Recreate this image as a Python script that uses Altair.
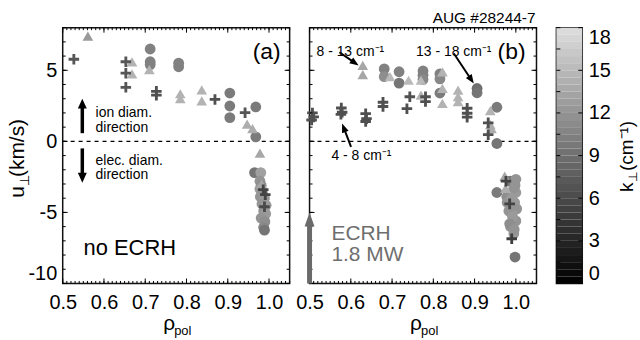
import math
import altair as alt
import pandas as pd

# ---------------- data ----------------
# panel (a): no ECRH
a_circle_rho = [0.712, 0.712, 0.712, 0.781, 0.781, 0.905, 0.905, 0.905, 0.968, 0.968,
                0.965, 0.980, 0.978, 0.981, 0.978, 0.984, 0.979, 0.989, 0.983, 0.993,
                0.987, 0.992, 0.981, 0.990, 0.987, 0.989]
a_circle_u = [6.5, 5.6, 5.4, 5.5, 5.25, 3.4, 2.49, 1.67, 2.42, 0.32,
              -2.2, -2.2, -2.8, -3.1, -3.35, -3.6, -3.9, -4.0, -4.4, -4.5,
              -4.9, -5.1, -5.4, -5.65, -6.05, -6.25]
a_circle_k = [10.5, 10.5, 10.5, 10.5, 10.5, 10.0, 10.0, 10.0, 10.0, 10.0,
              9.5, 13.0, 12.0, 11.5, 12.5, 12.0, 12.0, 12.5, 12.0, 12.5,
              12.0, 12.5, 12.0, 11.5, 11.0, 9.5]

a_tri_rho = [0.561, 0.668, 0.668, 0.710, 0.785, 0.785, 0.837, 0.837, 0.947, 0.960, 0.978, 0.982]
a_tri_u = [7.4, 5.6, 4.75, 5.05, 3.35, 3.0, 3.62, 2.85, 1.22, 0.9, -0.83, -3.0]
a_tri_k = [12.5, 14.5, 14.5, 14.5, 14.5, 14.5, 14.5, 14.5, 14.0, 14.0, 13.5, 13.5]

a_cross_rho = [0.527, 0.653, 0.653, 0.653, 0.727, 0.727, 0.869, 0.942, 0.986, 0.991, 0.989]
a_cross_u = [5.78, 5.6, 4.8, 3.8, 3.52, 3.25, 2.95, 2.02, -3.4, -3.75, -4.6]
a_cross_k = [7.0, 7.0, 7.0, 7.0, 6.5, 6.5, 6.5, 7.0, 5.5, 5.5, 6.0]

# panel (b): ECRH 1.8 MW
b_circle_rho = [0.681, 0.681, 0.717, 0.717, 0.775, 0.775, 0.775, 0.816, 0.816, 0.816,
                0.906, 0.906, 0.954, 0.954, 0.954,
                0.986, 1.000, 0.998, 1.000, 0.978, 0.979, 0.997, 1.002, 0.990, 1.000,
                0.987, 0.995, 0.998, 0.983, 0.992, 0.985, 0.995, 0.990, 0.996]
b_circle_u = [5.1, 4.55, 4.9, 4.1, 4.95, 4.65, 4.35, 4.75, 4.4, 3.4,
              3.72, 3.42, 2.4, -0.15, -3.6,
              -2.8, -2.67, -3.1, -3.6, -3.9, -4.3, -4.3, -4.75, -5.1, -5.6,
              -6.0, -6.5, -8.14, -4.9, -5.3, -5.8, -3.3, -4.0, -6.2]
b_circle_k = [10.5, 11.5, 10.5, 9.5, 10.5, 10.5, 11.0, 10.5, 11.0, 10.0,
              9.0, 9.5, 10.0, 9.5, 10.0,
              9.5, 12.0, 12.0, 12.5, 11.5, 12.0, 12.5, 12.0, 12.5, 12.0,
              12.0, 12.5, 9.5, 12.0, 12.5, 11.5, 12.0, 12.5, 12.0]

b_tri_rho = [0.629, 0.629, 0.695, 0.740, 0.770, 0.770, 0.822, 0.822, 0.822, 0.860,
             0.860, 0.860, 0.938, 0.938, 0.941, 0.973, 0.975]
b_tri_u = [5.35, 4.7, 4.55, 4.3, 4.3, 3.26, 4.89, 3.72, 2.68, 3.6,
           3.14, 2.79, 2.16, 1.17, 0.9, -2.44, -3.3]
b_tri_k = [13.5, 13.5, 15.0, 15.0, 15.0, 14.5, 14.5, 14.5, 14.5, 14.5,
           14.5, 14.5, 14.5, 14.0, 14.0, 13.5, 14.0]

b_cross_rho = [0.507, 0.510, 0.505, 0.577, 0.579, 0.576, 0.636, 0.638, 0.636, 0.678,
               0.678, 0.743, 0.736, 0.781, 0.781, 0.882, 0.882, 0.882, 0.933, 0.933,
               0.976, 0.985, 0.990]
b_cross_u = [2.0, 1.72, 1.5, 2.35, 2.05, 1.9, 1.95, 1.6, 1.4, 2.75,
             2.45, 3.14, 2.3, 3.14, 2.8, 2.33, 1.98, 1.7, 1.3, 0.47,
             -2.8, -4.4, -6.85]
b_cross_k = [6.5] * 20 + [5.5, 5.5, 5.0]

# axis ticks / colorbar levels
x_label_vals = [0.5, 0.6, 0.7, 0.8, 0.9, 1.0]
x_minor_vals = [round(0.5 + 0.01 * i, 2) for i in range(56)]
y_label_vals = [-10, -5, 0, 5]
y_minor_vals = list(range(-10, 9))
y_major_vals = [-10, -5, 0, 5]
cb_label_vals = [0, 3, 6, 9, 12, 15, 18]
cb_minor_vals = [1.5 * i for i in range(13)]
cb_band_lo = [0.5 * i for i in range(36)]

# ---------------- layout / style ----------------
W, H = 228, 257
CBW = 26
FONT = "Liberation Sans"
PLUS = "M-1,-0.27H-0.27V-1H0.27V-0.27H1V0.27H0.27V1H-0.27V0.27H-1Z"
xscale = alt.Scale(domain=[0.5, 1.05], nice=False, zero=False)
yscale = alt.Scale(domain=[-10, 8], nice=False, zero=False)
cbscale = alt.Scale(domain=[0, 18], nice=False, zero=False)
cscale = alt.Scale(domain=[0, 18], range=["#000000", "#dedede"], interpolate="rgb")
shape_scale = alt.Scale(domain=["circle", "triangle", "cross"],
                        range=["circle", "triangle-up", PLUS])
size_scale = alt.Scale(domain=["circle", "triangle", "cross"], range=[118, 112, 92])

XAXIS = alt.Axis(values=x_label_vals, format=".1f", labelFontSize=20, labelFont=FONT,
                 labelColor="black", ticks=False, tickSize=0, domain=False, grid=False,
                 title=None, labelPadding=9, labelFlush=False)
YAXIS = alt.Axis(values=y_label_vals, labelFontSize=20, labelFont=FONT, labelColor="black",
                 ticks=False, tickSize=0, domain=False, grid=False, title=None,
                 labelPadding=6, labelFlush=True,
                 labelExpr="datum.value < 0 ? '-' + abs(datum.value) : '' + datum.value")
CBAXIS = alt.Axis(orient="right", values=cb_label_vals, labelFontSize=20, labelFont=FONT,
                  labelColor="black", ticks=False, tickSize=0, domain=False, grid=False,
                  title=None, labelPadding=6, labelFlush=True)


def frame(panel, groups):
    rows = []
    for shp, (rr, uu, kk) in groups.items():
        for r, u, k in zip(rr, uu, kk):
            rows.append({"panel": panel, "shape": shp, "rho": r, "u": u, "k": k})
    return pd.DataFrame(rows)


df_a = frame("a", {"circle": (a_circle_rho, a_circle_u, a_circle_k),
                   "triangle": (a_tri_rho, a_tri_u, a_tri_k),
                   "cross": (a_cross_rho, a_cross_u, a_cross_k)})
df_b = frame("b", {"circle": (b_circle_rho, b_circle_u, b_circle_k),
                   "triangle": (b_tri_rho, b_tri_u, b_tri_k),
                   "cross": (b_cross_rho, b_cross_u, b_cross_k)})

ONE = pd.DataFrame({"a": [0]})


def xticks():
    layers = []
    for vals, ln in ((x_minor_vals, 2.5), (x_label_vals, 5)):
        base = alt.Chart(pd.DataFrame({"t": vals})).mark_rule(color="black", strokeWidth=1).encode(
            x=alt.X("t:Q", scale=xscale, axis=XAXIS))
        layers.append(base.encode(y=alt.value(H), y2=alt.value(H - ln)))
        layers.append(base.encode(y=alt.value(0), y2=alt.value(ln)))
    return layers


def yticks(yaxis):
    layers = []
    for vals, ln in ((y_minor_vals, 3), (y_major_vals, 5)):
        base = alt.Chart(pd.DataFrame({"t": vals})).mark_rule(color="black", strokeWidth=1).encode(
            y=alt.Y("t:Q", scale=yscale, axis=yaxis))
        layers.append(base.encode(x=alt.value(0), x2=alt.value(ln)))
        layers.append(base.encode(x=alt.value(W), x2=alt.value(W - ln)))
    return layers


def text(t, x, y, size, color="black", align="left", angle=0):
    return alt.Chart(pd.DataFrame({"t": [t]})).mark_text(
        align=align, baseline="alphabetic", fontSize=size, font=FONT, color=color, angle=angle
    ).encode(text="t:N", x=alt.value(x), y=alt.value(y))


def arrow(x0, y0, x1, y1, width, color, head_w, head_l):
    dx, dy = x1 - x0, y1 - y0
    n = math.hypot(dx, dy)
    ux, uy = dx / n, dy / n
    ang = math.degrees(math.atan2(dx, -dy)) % 360
    xe, ye = x1 - ux * head_l * 0.8, y1 - uy * head_l * 0.8
    s = 5.0
    path = f"M0,0L{head_w / 2 / s:.3f},{head_l / s:.3f}L{-head_w / 2 / s:.3f},{head_l / s:.3f}Z"
    shaft = alt.Chart(ONE).mark_rule(color=color, strokeWidth=width).encode(
        x=alt.value(x0), y=alt.value(y0), x2=alt.value(xe), y2=alt.value(ye))
    head = alt.Chart(ONE).mark_point(shape=path, filled=True, size=(2 * s) ** 2, angle=ang,
                                     color=color, opacity=1, strokeWidth=0).encode(
        x=alt.value(x1), y=alt.value(y1))
    return [shaft, head]


def points(df, yaxis):
    return alt.Chart(df).mark_point(filled=True, opacity=1, strokeWidth=0).encode(
        x=alt.X("rho:Q", scale=xscale, axis=XAXIS),
        y=alt.Y("u:Q", scale=yscale, axis=yaxis),
        color=alt.Color("k:Q", scale=cscale, legend=None),
        shape=alt.Shape("shape:N", scale=shape_scale, legend=None),
        size=alt.Size("shape:N", scale=size_scale, legend=None),
    )


def zero_line(yaxis):
    return alt.Chart(pd.DataFrame({"z": [0]})).mark_rule(
        color="black", strokeDash=[4, 4], strokeWidth=1.1).encode(
        y=alt.Y("z:Q", scale=yscale, axis=yaxis))


def xtitle():
    return [text("ρ", 101, 304, 21), text("pol", 112, 309, 13)]


# ---------------- panel (a) ----------------
a_layers = [zero_line(YAXIS), points(df_a, YAXIS)] + xticks() + yticks(YAXIS)
a_layers += [text("(a)", 219, 31, 23, align="right"),
             text("ion diam.", 33, 89.5, 14), text("direction", 33, 104.5, 14),
             text("elec. diam.", 33, 137.5, 14), text("direction", 33, 152.5, 14),
             text("no ECRH", 21, 228, 22)]
a_layers += arrow(19.7, 106, 19.7, 71.3, 3.5, "black", 9, 10)
a_layers += arrow(19.7, 121.3, 19.7, 155.7, 3.5, "black", 9, 10)
# y-axis title  u_perp (km/s)
a_layers += [text("u", -39, 171, 21, angle=270),
             text("⊥", -34, 159.5, 13, angle=270),
             text("(km/s)", -39, 150, 21, angle=270)]
a_layers += xtitle()
panel_a = alt.layer(*a_layers).properties(width=W, height=H)

# ---------------- panel (b) ----------------
b_layers = [zero_line(None), points(df_b, None)] + xticks() + yticks(None)
b_layers += [text("(b)", 217, 31, 23, align="right"),
             text("8 - 13 cm⁻¹", 7, 28, 14),
             text("13 - 18 cm⁻¹", 107, 28, 14),
             text("4 - 8 cm⁻¹", 22, 133, 14),
             text("ECRH", 22, 213, 21, color="#6e6e6e"),
             text("1.8 MW", 22, 234, 21, color="#6e6e6e"),
             text("AUG #28244-7", 227, -5, 15.5, align="right")]
b_layers += arrow(30, 24.7, 49.3, 38, 2, "black", 7, 9)
b_layers += arrow(145, 26, 165, 56, 2, "black", 7, 9)
b_layers += arrow(41.7, 119.7, 32.7, 96.3, 2, "black", 7, 9)
b_layers += arrow(0, H, 0, 185.7, 5, "#6a6a6a", 10, 14)
b_layers += xtitle()
panel_b = alt.layer(*b_layers).properties(width=W, height=H)

# ---------------- colorbar ----------------
cb_df = pd.DataFrame({"lo": cb_band_lo})
cb_df["hi"] = cb_df["lo"] + 0.5
cb_df["mid"] = cb_df["lo"] + 0.25
cb_rect = alt.Chart(cb_df).mark_rect().encode(
    x=alt.value(0), x2=alt.value(CBW),
    y=alt.Y("lo:Q", scale=cbscale, axis=CBAXIS),
    y2="hi:Q",
    color=alt.Color("mid:Q", scale=cscale, legend=None),
)
cb_minor = alt.Chart(pd.DataFrame({"t": cb_minor_vals})).mark_rule(color="black", strokeWidth=1).encode(
    y=alt.Y("t:Q", scale=cbscale, axis=CBAXIS), x=alt.value(0), x2=alt.value(4))
cb_major = alt.Chart(pd.DataFrame({"t": cb_label_vals})).mark_rule(color="black", strokeWidth=1).encode(
    y=alt.Y("t:Q", scale=cbscale, axis=CBAXIS), x=alt.value(CBW), x2=alt.value(CBW - 4))
cb_title = [text("k", 77, 165, 19, angle=270),
            text("⊥", 81, 155.5, 12, angle=270),
            text("(cm⁻¹)", 77, 144, 19, angle=270)]
colorbar = alt.layer(cb_rect, cb_minor, cb_major, *cb_title).properties(width=CBW, height=H)

chart = alt.hconcat(panel_a, panel_b, colorbar, spacing=20, bounds="flush").properties(
    padding={"left": 6, "top": 9, "right": 0, "bottom": 0},
    background="white",
).configure_view(stroke="#111111", strokeWidth=1.5)

chart.save("out.html", embed_options={"renderer": "svg", "actions": False})
